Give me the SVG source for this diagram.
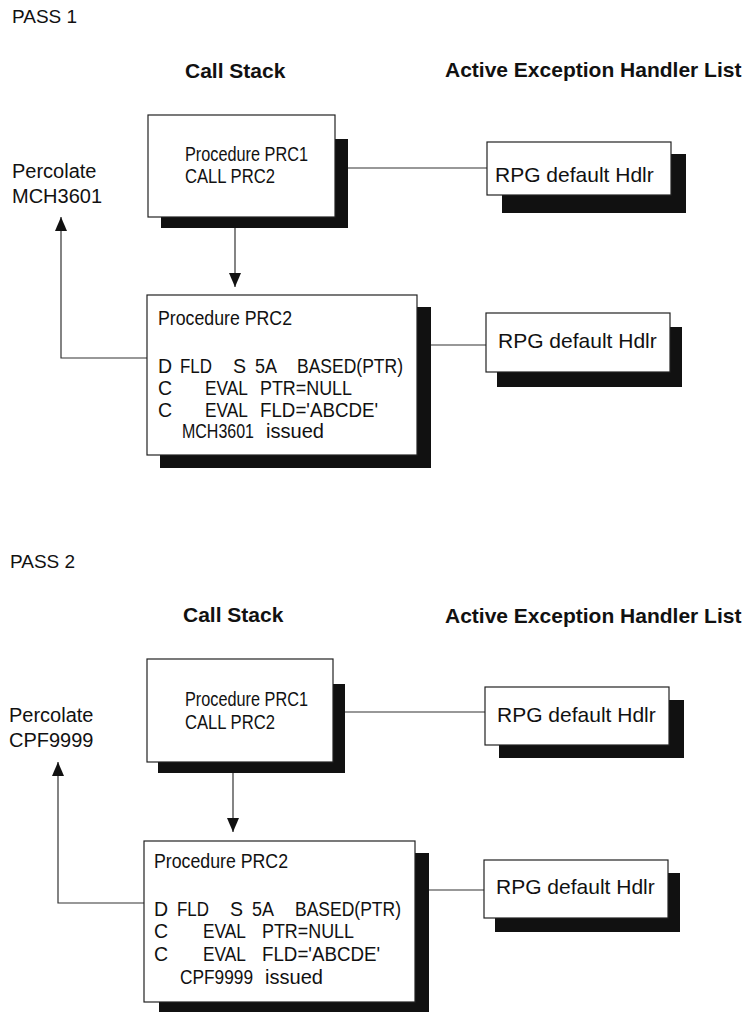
<svg xmlns="http://www.w3.org/2000/svg" width="752" height="1012" viewBox="0 0 752 1012">
<style>
text{font-family:"Liberation Sans",Arial,sans-serif;fill:#111}
.pass{font-size:19px}
.hdr{font-size:21px;font-weight:bold}
.perc{font-size:20px}
.p1{font-size:20px}
.p2{font-size:19.5px}
.hd{font-size:21px}
.box{fill:#fff;stroke:#222;stroke-width:1.2}
.sh{fill:#111}
.ln{fill:none;stroke:#333;stroke-width:1.2}
</style>
<defs>
<marker id="ah" viewBox="0 0 14 12" refX="14" refY="6" markerWidth="14" markerHeight="12" markerUnits="userSpaceOnUse" orient="auto">
<path d="M0,0 L14,6 L0,12 Z" fill="#111"/>
</marker>
</defs>
<rect width="752" height="1012" fill="#fff"/>

<text class="pass" x="12" y="23">PASS 1</text>
<text class="hdr" x="185" y="78">Call Stack</text>
<text class="hdr" x="445" y="77">Active Exception Handler List</text>
<g id="perc1"><text class="perc" x="12" y="178">Percolate</text><text class="perc" x="12" y="203">MCH3601</text></g>

<text class="pass" x="10" y="568">PASS 2</text>
<text class="hdr" x="183" y="622">Call Stack</text>
<text class="hdr" x="445" y="623">Active Exception Handler List</text>
<g id="perc2"><text class="perc" x="9" y="722">Percolate</text><text class="perc" x="9" y="747">CPF9999</text></g>

<g id="connectors">
<path class="ln" d="M348,168 H487"/>
<path class="ln" d="M235,228 V287" marker-end="url(#ah)"/>
<path class="ln" d="M147,358 H61 V217" marker-end="url(#ah)"/>
<path class="ln" d="M431,345 H486"/>
<path class="ln" d="M345,712 H485"/>
<path class="ln" d="M233,773 V832" marker-end="url(#ah)"/>
<path class="ln" d="M144,903 H58 V762" marker-end="url(#ah)"/>
<path class="ln" d="M429,890 H484"/>
</g>

<g id="prc1-a">
<rect class="sh" x="161" y="139" width="187" height="89"/>
<rect class="box" x="148" y="115" width="187" height="102"/>
<text class="p1" x="185" y="161" textLength="123" lengthAdjust="spacingAndGlyphs">Procedure PRC1</text>
<text class="p1" x="185" y="183" textLength="90" lengthAdjust="spacingAndGlyphs">CALL PRC2</text>
</g>
<g id="hdlr1-a">
<rect class="sh" x="502" y="154" width="184" height="59"/>
<rect class="box" x="487" y="142" width="184" height="53"/>
<text class="hd" x="495" y="182">RPG default Hdlr</text>
</g>
<g id="prc2-a">
<rect class="sh" x="160" y="307" width="271" height="161"/>
<rect class="box" x="147" y="295" width="270" height="160"/>
<text class="p2" x="158" y="325" textLength="134" lengthAdjust="spacingAndGlyphs">Procedure PRC2</text>
<text class="p2" x="158" y="373">D</text><text class="p2" x="180" y="373" textLength="32" lengthAdjust="spacingAndGlyphs">FLD</text><text class="p2" x="233" y="373">S</text><text class="p2" x="255" y="373" textLength="22" lengthAdjust="spacingAndGlyphs">5A</text><text class="p2" x="297" y="373" textLength="106" lengthAdjust="spacingAndGlyphs">BASED(PTR)</text>
<text class="p2" x="158" y="395">C</text><text class="p2" x="205" y="395" textLength="43" lengthAdjust="spacingAndGlyphs">EVAL</text><text class="p2" x="260" y="395" textLength="92" lengthAdjust="spacingAndGlyphs">PTR=NULL</text>
<text class="p2" x="158" y="417">C</text><text class="p2" x="205" y="417" textLength="43" lengthAdjust="spacingAndGlyphs">EVAL</text><text class="p2" x="260" y="417" textLength="118" lengthAdjust="spacingAndGlyphs">FLD='ABCDE'</text>
<text class="p2" x="182" y="438" textLength="72" lengthAdjust="spacingAndGlyphs">MCH3601</text><text class="p2" x="266" y="438" textLength="58" lengthAdjust="spacingAndGlyphs">issued</text>
</g>
<g id="hdlr2-a">
<rect class="sh" x="497" y="327" width="185" height="60"/>
<rect class="box" x="486" y="313" width="184" height="59"/>
<text class="hd" x="498" y="348">RPG default Hdlr</text>
</g>

<g id="prc1-b">
<rect class="sh" x="158" y="684" width="187" height="89"/>
<rect class="box" x="147" y="659" width="186" height="103"/>
<text class="p1" x="185" y="706" textLength="123" lengthAdjust="spacingAndGlyphs">Procedure PRC1</text>
<text class="p1" x="185" y="729" textLength="90" lengthAdjust="spacingAndGlyphs">CALL PRC2</text>
</g>
<g id="hdlr1-b">
<rect class="sh" x="499" y="700" width="185" height="58"/>
<rect class="box" x="485" y="687" width="184" height="58"/>
<text class="hd" x="497" y="722">RPG default Hdlr</text>
</g>
<g id="prc2-b">
<rect class="sh" x="159" y="853" width="270" height="161"/>
<rect class="box" x="144" y="841" width="271" height="161"/>
<text class="p2" x="154" y="868" textLength="134" lengthAdjust="spacingAndGlyphs">Procedure PRC2</text>
<text class="p2" x="154" y="916">D</text><text class="p2" x="177" y="916" textLength="32" lengthAdjust="spacingAndGlyphs">FLD</text><text class="p2" x="230" y="916">S</text><text class="p2" x="252" y="916" textLength="22" lengthAdjust="spacingAndGlyphs">5A</text><text class="p2" x="295" y="916" textLength="106" lengthAdjust="spacingAndGlyphs">BASED(PTR)</text>
<text class="p2" x="154" y="938">C</text><text class="p2" x="203" y="938" textLength="43" lengthAdjust="spacingAndGlyphs">EVAL</text><text class="p2" x="262" y="938" textLength="92" lengthAdjust="spacingAndGlyphs">PTR=NULL</text>
<text class="p2" x="154" y="961">C</text><text class="p2" x="203" y="961" textLength="43" lengthAdjust="spacingAndGlyphs">EVAL</text><text class="p2" x="262" y="961" textLength="118" lengthAdjust="spacingAndGlyphs">FLD='ABCDE'</text>
<text class="p2" x="180" y="984" textLength="73" lengthAdjust="spacingAndGlyphs">CPF9999</text><text class="p2" x="265" y="984" textLength="58" lengthAdjust="spacingAndGlyphs">issued</text>
</g>
<g id="hdlr2-b">
<rect class="sh" x="495" y="873" width="185" height="59"/>
<rect class="box" x="484" y="860" width="184" height="58"/>
<text class="hd" x="496" y="894">RPG default Hdlr</text>
</g>
</svg>
